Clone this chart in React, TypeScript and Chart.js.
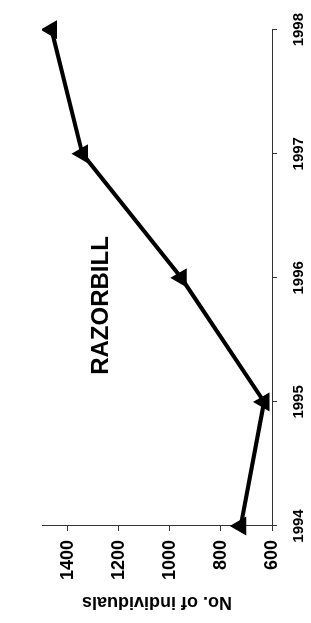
import React, { useEffect, useRef } from "react";
import { Chart, registerables } from "chart.js";

Chart.register(...registerables);

const years = ["1994", "1995", "1996", "1997", "1998"];
const individuals = [722, 631, 955, 1342, 1463];
const valueMin = 600;
const valueMax = 1500;
const valueStep = 200;
const chartTitle = "RAZORBILL";
const valueAxisTitle = "No. of individuals";

const FONT = '"Liberation Sans", Arial, sans-serif';

const titlePlugin = {
  id: "insideTitle",
  afterDraw(chart: any) {
    const ctx = chart.ctx;
    ctx.save();
    ctx.font = `bold 24px ${FONT}`;
    ctx.fillStyle = "#000";
    ctx.textAlign = "center";
    ctx.textBaseline = "alphabetic";
    ctx.fillText(chartTitle, chart.width / 2 + 6, 108);
    ctx.restore();
  },
};

export default function App() {
  const canvasRef = useRef<HTMLCanvasElement | null>(null);

  useEffect(() => {
    const canvas = canvasRef.current;
    if (!canvas) return;
    const chart = new Chart(canvas, {
      type: "line",
      data: {
        labels: years,
        datasets: [
          {
            data: individuals,
            borderColor: "#000",
            backgroundColor: "#000",
            borderWidth: 4,
            tension: 0,
            pointStyle: "triangle",
            pointRadius: 9,
            pointBorderWidth: 2,
            pointBackgroundColor: "#000",
            pointBorderColor: "#000",
          },
        ],
      },
      options: {
        responsive: false,
        animation: false,
        layout: { padding: { left: 0, right: 29, top: 42, bottom: 0 } },
        plugins: {
          legend: { display: false },
          tooltip: { enabled: false },
          title: { display: false },
        },
        scales: {
          x: {
            type: "category",
            offset: false,
            grid: {
              drawOnChartArea: false,
              drawTicks: true,
              tickLength: 5,
              color: "#333",
            },
            border: { display: true, color: "#333", width: 1 },
            ticks: {
              color: "#000",
              padding: 13,
              maxRotation: 0,
              minRotation: 0,
              autoSkip: false,
              font: { family: FONT, size: 15, weight: "bold" },
            },
            afterFit(scale: any) {
              scale.height = 39;
            },
          },
          y: {
            type: "linear",
            min: valueMin,
            max: valueMax,
            grid: {
              drawOnChartArea: false,
              drawTicks: true,
              tickLength: 5,
              color: "#333",
            },
            border: { display: true, color: "#333", width: 1 },
            ticks: {
              stepSize: valueStep,
              color: "#000",
              padding: 9,
              font: { family: FONT, size: 18, weight: "bold" },
              callback: (v: any) => String(v),
            },
            afterBuildTicks(scale: any) {
              scale.ticks = scale.ticks.filter((t: any) => t.value !== valueMax);
            },
            title: {
              display: true,
              text: valueAxisTitle,
              color: "#000",
              padding: { top: 10, bottom: 0 },
              font: { family: FONT, size: 18, weight: "bold" },
            },
            afterFit(scale: any) {
              scale.width = 97;
            },
          },
        },
      },
      plugins: [titlePlugin],
    });
    return () => chart.destroy();
  }, []);

  return (
    <div
      style={{
        position: "fixed",
        left: 0,
        top: 0,
        width: 311,
        height: 623,
        overflow: "hidden",
        background: "#fff",
      }}
    >
      <div
        style={{
          position: "absolute",
          left: 0,
          top: 0,
          width: 623,
          height: 311,
          transformOrigin: "0 0",
          transform: "translate(0px, 623px) rotate(-90deg)",
        }}
      >
        <canvas ref={canvasRef} width={623} height={311} style={{ display: "block" }} />
      </div>
    </div>
  );
}
